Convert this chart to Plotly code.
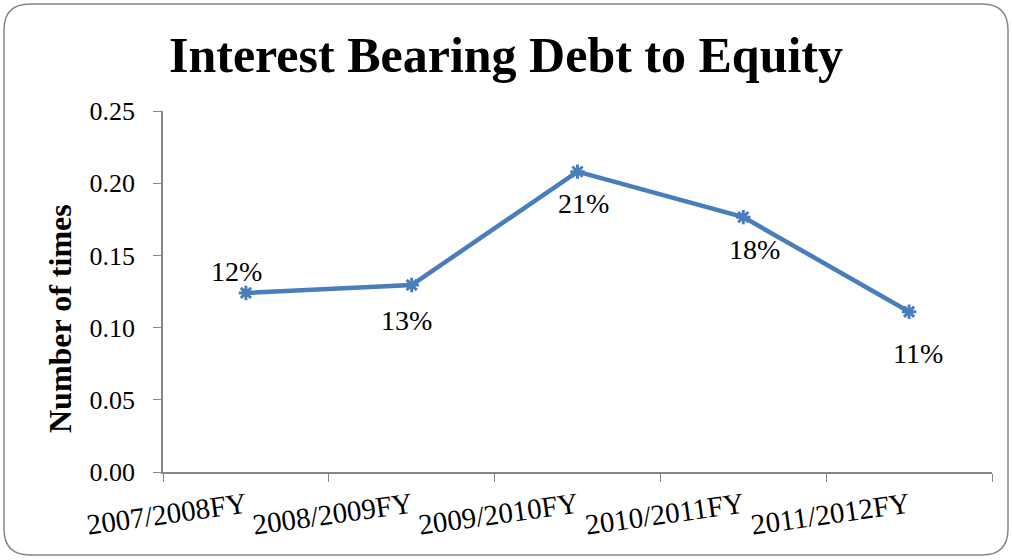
import plotly.graph_objects as go

categories = ["2007/2008FY", "2008/2009FY", "2009/2010FY", "2010/2011FY", "2011/2012FY"]
values = [0.124, 0.1295, 0.208, 0.1765, 0.111]
labels = ["12%", "13%", "21%", "18%", "11%"]
y_ticks = [0.0, 0.05, 0.10, 0.15, 0.20, 0.25]
y_title = "Number of times"

W, H = 1012, 560
L, R, T, B = 163, 20, 111, 88
pw, ph = W - L - R, H - T - B

def px(x):
    return (x - L) / pw

def py(y):
    return (H - B - y) / ph

# rounded rectangle border in paper coords
x0, x1, y0, y1, r = 4, 1008, 4, 555, 26
path = (
    f"M {px(x0 + r)},{py(y0)} L {px(x1 - r)},{py(y0)} "
    f"Q {px(x1)},{py(y0)} {px(x1)},{py(y0 + r)} "
    f"L {px(x1)},{py(y1 - r)} Q {px(x1)},{py(y1)} {px(x1 - r)},{py(y1)} "
    f"L {px(x0 + r)},{py(y1)} Q {px(x0)},{py(y1)} {px(x0)},{py(y1 - r)} "
    f"L {px(x0)},{py(y0 + r)} Q {px(x0)},{py(y0)} {px(x0 + r)},{py(y0)} Z"
)

fig = go.Figure()
fig.add_trace(go.Scatter(
    x=categories, y=values, mode="lines+markers",
    line=dict(color="#4A7EBB", width=4.5),
    marker=dict(symbol="asterisk-open", size=12, color="#4A7EBB",
                line=dict(color="#4A7EBB", width=3)),
    hoverinfo="skip", showlegend=False,
))

label_shift = [(-9, 21), (-5, -35), (6, -32), (11, -32), (9, -42)]
for c, v, t, (dx, dy) in zip(categories, values, labels, label_shift):
    fig.add_annotation(x=c, y=v, text=t, showarrow=False, xshift=dx, yshift=dy,
                       font=dict(family="Liberation Serif", size=28, color="#000000"))

# y-axis title placed as rotated annotation
fig.add_annotation(x=px(60), y=py(319), xref="paper", yref="paper",
                   text=f"<b>{y_title}</b>", textangle=-90, showarrow=False,
                   xanchor="center", yanchor="middle",
                   font=dict(family="Liberation Serif", size=32, color="#000000"))

fig.add_shape(type="path", path=path, xref="paper", yref="paper",
              line=dict(color="#868686", width=1.5), layer="below")

fig.update_layout(
    width=W, height=H,
    margin=dict(l=L, r=R, t=T, b=B),
    paper_bgcolor="white", plot_bgcolor="white",
    title=dict(text="<b>Interest Bearing Debt to Equity</b>", x=0.5, xanchor="center",
               y=1 - 54 / H, yanchor="middle",
               font=dict(family="Liberation Serif", size=50, color="#000000")),
    font=dict(family="Liberation Serif", color="#000000"),
)
fig.update_xaxes(
    type="category", range=[-0.5, 4.5], showgrid=False, showline=True,
    linecolor="#868686", linewidth=1.5,
    ticks="outside", tickson="boundaries", ticklen=8, tickcolor="#868686",
    tickangle=-8, ticklabelstandoff=4,
    tickfont=dict(family="Liberation Serif", size=29, color="#000000"),
    zeroline=False,
)
fig.update_yaxes(
    range=[0, 0.25], tickvals=y_ticks, tickformat=".2f", showgrid=False,
    showline=True, linecolor="#868686", linewidth=1.5,
    ticks="outside", ticklen=8, tickcolor="#868686", ticklabelstandoff=13,
    tickfont=dict(family="Liberation Serif", size=26, color="#000000"),
    zeroline=False,
)

fig.write_html("out.html")
